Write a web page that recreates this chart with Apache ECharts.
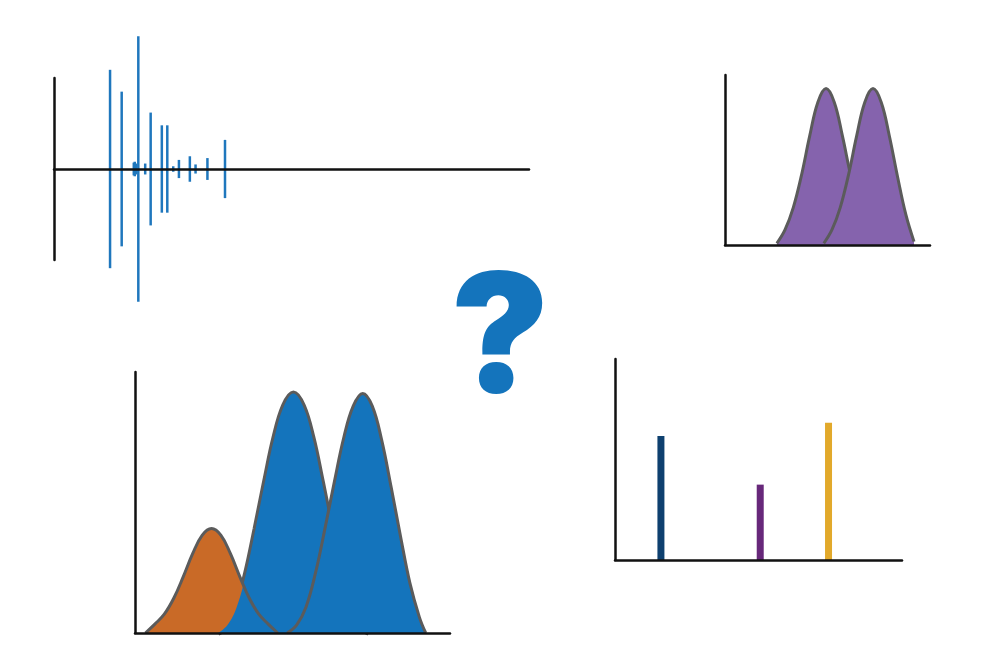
<!DOCTYPE html>
<html>
<head>
<meta charset="utf-8">
<script src="https://cdn.jsdelivr.net/npm/echarts@6/dist/echarts.min.js"></script>
<style>html,body{margin:0;padding:0;background:#fff}#c{width:1000px;height:667px}</style>
</head>
<body>
<div id="c"></div>
<script>
// Top-left spike plot
const spikeX = [11.8, 14.25, 16.8, 17.0, 17.3, 17.75, 19.2, 20.35, 22.7, 23.85, 25.1, 26.3, 28.6, 29.8, 32.3, 36.0];
const spikeV = [1.09, 0.85, 0.07, 0.08, 0.06, 1.46, 0.06, 0.62, 0.48, 0.48, 0.03, 0.10, 0.14, 0.05, 0.12, 0.32];

// Top-right purple densities
const purpleAX = [25.3, 29.3, 33.3, 37.3, 41.3, 45.3, 49.3, 53.3, 57.3, 61.3, 65.3, 69.3, 73.3];
const purpleAY = [0.01, 0.09, 0.22, 0.41, 0.64, 0.84, 0.92, 0.84, 0.64, 0.41, 0.22, 0.09, 0.01];
const purpleBX = [48.2, 52.2, 56.2, 60.2, 64.2, 68.2, 72.2, 76.2, 80.2, 84.2, 88.2, 92.2];
const purpleBY = [0.01, 0.09, 0.22, 0.41, 0.64, 0.84, 0.92, 0.84, 0.64, 0.40, 0.18, 0.02];

// Bottom-left densities
const orangeX = [3.3, 6.3, 9.3, 12.3, 15.3, 18.3, 21.3, 24.3, 27.3, 30.3, 33.3, 36.3, 39.3, 42.3, 45.3];
const orangeY = [0, 0.034, 0.072, 0.133, 0.215, 0.304, 0.374, 0.40, 0.374, 0.304, 0.215, 0.133, 0.072, 0.034, 0];
const blueAX = [26.3, 29.3, 32.3, 35.3, 38.3, 41.3, 44.3, 47.3, 50.3, 53.3, 56.3, 59.3, 62.3, 65.3, 68.3, 71.3, 74.3];
const blueAY = [0, 0.03, 0.10, 0.23, 0.40, 0.58, 0.75, 0.87, 0.918, 0.87, 0.75, 0.58, 0.40, 0.23, 0.10, 0.03, 0];
const blueBX = [48.3, 51.3, 54.3, 57.3, 60.3, 63.3, 66.3, 69.3, 72.3, 75.3, 78.3, 81.3, 84.3, 87.3, 90.3, 92.3];
const blueBY = [0, 0.03, 0.10, 0.23, 0.40, 0.58, 0.75, 0.87, 0.918, 0.87, 0.74, 0.56, 0.37, 0.19, 0.06, 0];

// Bottom-right bars
const barX = [16.0, 50.6, 74.4];
const barV = [0.617, 0.375, 0.683];
const barColors = ['#0e406f', '#67287a', '#e2a92b'];

const zip = (xs, ys) => xs.map((x, i) => [x, ys[i]]);

const axisLineStyle = { show: true, onZero: true, lineStyle: { color: '#111', width: 2.5 } };
function mkAxis(gridIndex, min, max) {
  return {
    type: 'value', gridIndex, min, max, z: 10,
    axisLine: axisLineStyle, axisTick: { show: false }, axisLabel: { show: false }, splitLine: { show: false }
  };
}

const outline = { color: '#5b5b5b', width: 3 };
const noLine = { width: 0, opacity: 0 };

const chart = echarts.init(document.getElementById('c'), null, { renderer: 'canvas' });
chart.setOption({
  animation: false,
  backgroundColor: '#fff',
  grid: [
    { left: 54, top: 78, width: 475, height: 182 },
    { left: 725, top: 75, width: 205, height: 170 },
    { left: 135, top: 372, width: 315, height: 261 },
    { left: 615, top: 359, width: 287, height: 201 }
  ],
  xAxis: [mkAxis(0, 0, 100), mkAxis(1, 0, 100), mkAxis(2, 0, 100), mkAxis(3, 0, 100)],
  yAxis: [mkAxis(0, -1, 1), mkAxis(1, 0, 1), mkAxis(2, 0, 1), mkAxis(3, 0, 1)],
  graphic: [{
    type: 'text', z: 20,
    style: { text: '?', x: 500, y: 342, align: 'center', verticalAlign: 'middle',
      font: '900 165px Inter, "Open Sans", sans-serif', fill: '#1474bc' }
  }],
  series: [
    {
      type: 'custom', xAxisIndex: 0, yAxisIndex: 0, clip: false, z: 2,
      data: zip(spikeX, spikeV),
      renderItem: function (params, api) {
        const x = api.value(0), v = api.value(1);
        const p1 = api.coord([x, -v]), p2 = api.coord([x, v]);
        return { type: 'line', shape: { x1: p1[0], y1: p1[1], x2: p2[0], y2: p2[1] },
          style: { stroke: '#1f77bd', lineWidth: 2.5 } };
      }
    },
    {
      type: 'line', xAxisIndex: 1, yAxisIndex: 1, data: zip(purpleAX, purpleAY), smooth: 0.4, z: 2,
      showSymbol: false, lineStyle: outline, areaStyle: { color: '#8563ad', opacity: 1 }
    },
    {
      type: 'line', xAxisIndex: 1, yAxisIndex: 1, data: zip(purpleBX, purpleBY), smooth: 0.4, z: 3,
      showSymbol: false, lineStyle: outline, areaStyle: { color: '#8563ad', opacity: 1 }
    },
    // blue 1 outline (drawn first, wide so the outer half shows)
    {
      type: 'line', xAxisIndex: 2, yAxisIndex: 2, data: zip(blueAX, blueAY), smooth: 0.4, z: 1,
      showSymbol: false, lineStyle: { color: '#5b5b5b', width: 6 }
    },
    // orange fill
    {
      type: 'line', xAxisIndex: 2, yAxisIndex: 2, data: zip(orangeX, orangeY), smooth: 0.4, z: 2,
      showSymbol: false, lineStyle: noLine, areaStyle: { color: '#c96a27', opacity: 1 }
    },
    // blue 1 fill
    {
      type: 'line', xAxisIndex: 2, yAxisIndex: 2, data: zip(blueAX, blueAY), smooth: 0.4, z: 3,
      showSymbol: false, lineStyle: noLine, areaStyle: { color: '#1474bc', opacity: 1 }
    },
    // blue 2 fill + outline
    {
      type: 'line', xAxisIndex: 2, yAxisIndex: 2, data: zip(blueBX, blueBY), smooth: 0.4, z: 4,
      showSymbol: false, lineStyle: outline, areaStyle: { color: '#1474bc', opacity: 1 }
    },
    // orange outline on top
    {
      type: 'line', xAxisIndex: 2, yAxisIndex: 2, data: zip(orangeX, orangeY), smooth: 0.4, z: 5,
      showSymbol: false, lineStyle: outline
    },
    {
      type: 'bar', xAxisIndex: 3, yAxisIndex: 3, barWidth: 7, z: 2,
      data: barX.map((x, i) => ({ value: [x, barV[i]], itemStyle: { color: barColors[i] } }))
    }
  ]
});
</script>
</body>
</html>
